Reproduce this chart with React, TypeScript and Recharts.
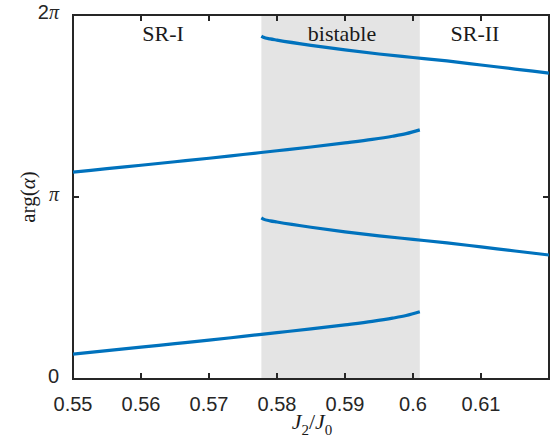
import {
  LineChart,
  Line,
  XAxis,
  YAxis,
  ReferenceArea,
} from "recharts";

// x values (J2/J0) and arg(alpha) values
const risingX = [0.55, 0.555, 0.56, 0.565, 0.57, 0.575, 0.58, 0.585, 0.59, 0.594, 0.597, 0.599, 0.601];
const lowerRising = [0.43, 0.49, 0.55, 0.61, 0.67, 0.735, 0.8, 0.865, 0.935, 0.995, 1.05, 1.095, 1.16];
const upperRising = [3.57, 3.63, 3.69, 3.75, 3.81, 3.875, 3.94, 4.005, 4.075, 4.135, 4.19, 4.235, 4.3];

const fallingX = [0.5777, 0.578, 0.579, 0.58, 0.585, 0.59, 0.595, 0.6, 0.605, 0.61, 0.615, 0.62];
const lowerFalling = [2.78, 2.76, 2.73, 2.71, 2.62, 2.54, 2.47, 2.41, 2.35, 2.28, 2.21, 2.14];
const upperFalling = [5.92, 5.9, 5.87, 5.85, 5.76, 5.68, 5.61, 5.55, 5.49, 5.42, 5.35, 5.28];

const xTicks = [0.55, 0.56, 0.57, 0.58, 0.59, 0.6, 0.61];
const yTicks = [0, Math.PI, 2 * Math.PI];
const yTickText = ["0", "π", "2π"];

const bistableFrom = 0.5777;
const bistableTo = 0.601;

const regions = [
  { name: "SR-I", left: 163 },
  { name: "bistable", left: 342 },
  { name: "SR-II", left: 475 },
];

const toPoints = (xs: number[], ys: number[]) => xs.map((x, i) => ({ x, y: ys[i] }));

const W = 554;
const H = 441;
const M = { top: 15, right: 5, left: 73, bottom: 62 };
const plotTop = M.top;
const plotBottom = H - M.bottom;
const plotLeft = M.left;
const plotRight = W - M.right;
const TICK = 6;
const X_GAP = 17;
const Y_GAP = 14;

const axisColor = "#262626";
const lineColor = "#0072BD";
const serif = "'Liberation Serif', 'DejaVu Serif', serif";
const sans = "'Liberation Sans', Arial, sans-serif";

// bottom tick: label plus inward tick marks on bottom and top edges
function XTick(props: any) {
  const { x, y, payload } = props;
  const first = payload.value === xTicks[0];
  return (
    <g>
      {!first && (
        <>
          <line x1={x} x2={x} y1={plotBottom} y2={plotBottom - TICK} stroke={axisColor} strokeWidth={2} />
          <line x1={x} x2={x} y1={plotTop} y2={plotTop + TICK} stroke={axisColor} strokeWidth={2} />
        </>
      )}
      <text x={x} y={y} dy={15} textAnchor="middle" fill="#262626" fontSize={20} fontFamily={sans}>
        {String(payload.value)}
      </text>
    </g>
  );
}

// left tick: label plus inward tick marks on left and right edges
function YTick(props: any) {
  const { x, y, payload } = props;
  const idx = yTicks.indexOf(payload.value);
  const label = yTickText[idx] ?? "";
  const inner = idx === 1;
  return (
    <g>
      {inner && (
        <>
          <line x1={plotLeft} x2={plotLeft + TICK} y1={y} y2={y} stroke={axisColor} strokeWidth={2} />
          <line x1={plotRight} x2={plotRight - TICK} y1={y} y2={y} stroke={axisColor} strokeWidth={2} />
        </>
      )}
      <text x={x} y={y} dy={4} textAnchor="end" fill="#262626" fontSize={20} fontFamily={sans}>
        {label.split("").map((c, i) =>
          c === "π" ? (
            <tspan key={i} fontFamily={serif} fontStyle="italic">
              {c}
            </tspan>
          ) : (
            <tspan key={i}>{c}</tspan>
          )
        )}
      </text>
    </g>
  );
}

export default function App() {
  return (
    <div style={{ position: "absolute", left: 0, top: 0, width: W, height: H }}>
      <LineChart
        width={W}
        height={H}
        margin={{ top: M.top, right: M.right, bottom: 0, left: 0 }}
      >
        <ReferenceArea
          x1={bistableFrom}
          x2={bistableTo}
          y1={0}
          y2={2 * Math.PI}
          fill="#e4e4e4"
          fillOpacity={1}
          stroke="none"
          ifOverflow="visible"
        />
        <ReferenceArea
          x1={0.55}
          x2={0.62}
          y1={0}
          y2={2 * Math.PI}
          fill="none"
          stroke={axisColor}
          strokeWidth={2}
          ifOverflow="visible"
        />
        <XAxis
          dataKey="x"
          type="number"
          domain={[0.55, 0.62]}
          ticks={xTicks}
          allowDataOverflow
          height={M.bottom}
          axisLine={false}
          tickLine={false}
          tickSize={0}
          tickMargin={X_GAP}
          tick={<XTick />}
        />
        <YAxis
          type="number"
          domain={[0, 2 * Math.PI]}
          ticks={yTicks}
          allowDataOverflow
          width={M.left}
          axisLine={false}
          tickLine={false}
          tickSize={0}
          tickMargin={Y_GAP}
          tick={<YTick />}
        />
        <Line data={toPoints(risingX, lowerRising)} dataKey="y" type="monotone" stroke={lineColor} strokeWidth={3.2} dot={false} isAnimationActive={false} />
        <Line data={toPoints(risingX, upperRising)} dataKey="y" type="monotone" stroke={lineColor} strokeWidth={3.2} dot={false} isAnimationActive={false} />
        <Line data={toPoints(fallingX, lowerFalling)} dataKey="y" type="monotone" stroke={lineColor} strokeWidth={3.2} dot={false} isAnimationActive={false} />
        <Line data={toPoints(fallingX, upperFalling)} dataKey="y" type="monotone" stroke={lineColor} strokeWidth={3.2} dot={false} isAnimationActive={false} />
      </LineChart>

      {regions.map((r) => (
        <div
          key={r.name}
          style={{
            position: "absolute",
            left: r.left,
            top: 21,
            transform: "translateX(-50%)",
            fontFamily: serif,
            fontSize: 22,
            color: "#1a1a1a",
            whiteSpace: "nowrap",
          }}
        >
          {r.name}
        </div>
      ))}

      <div
        style={{
          position: "absolute",
          left: 28,
          top: 197,
          transform: "translate(-50%, -50%) rotate(-90deg)",
          fontFamily: serif,
          fontSize: 21,
          color: "#1a1a1a",
          whiteSpace: "nowrap",
        }}
      >
        arg(<i>α</i>)
      </div>

      <div
        style={{
          position: "absolute",
          left: 312,
          top: 424,
          transform: "translate(-50%, -50%)",
          fontFamily: serif,
          fontSize: 22,
          color: "#1a1a1a",
          whiteSpace: "nowrap",
        }}
      >
        <i>J</i>
        <sub style={{ fontSize: 15 }}>2</sub>/<i>J</i>
        <sub style={{ fontSize: 15 }}>0</sub>
      </div>
    </div>
  );
}
